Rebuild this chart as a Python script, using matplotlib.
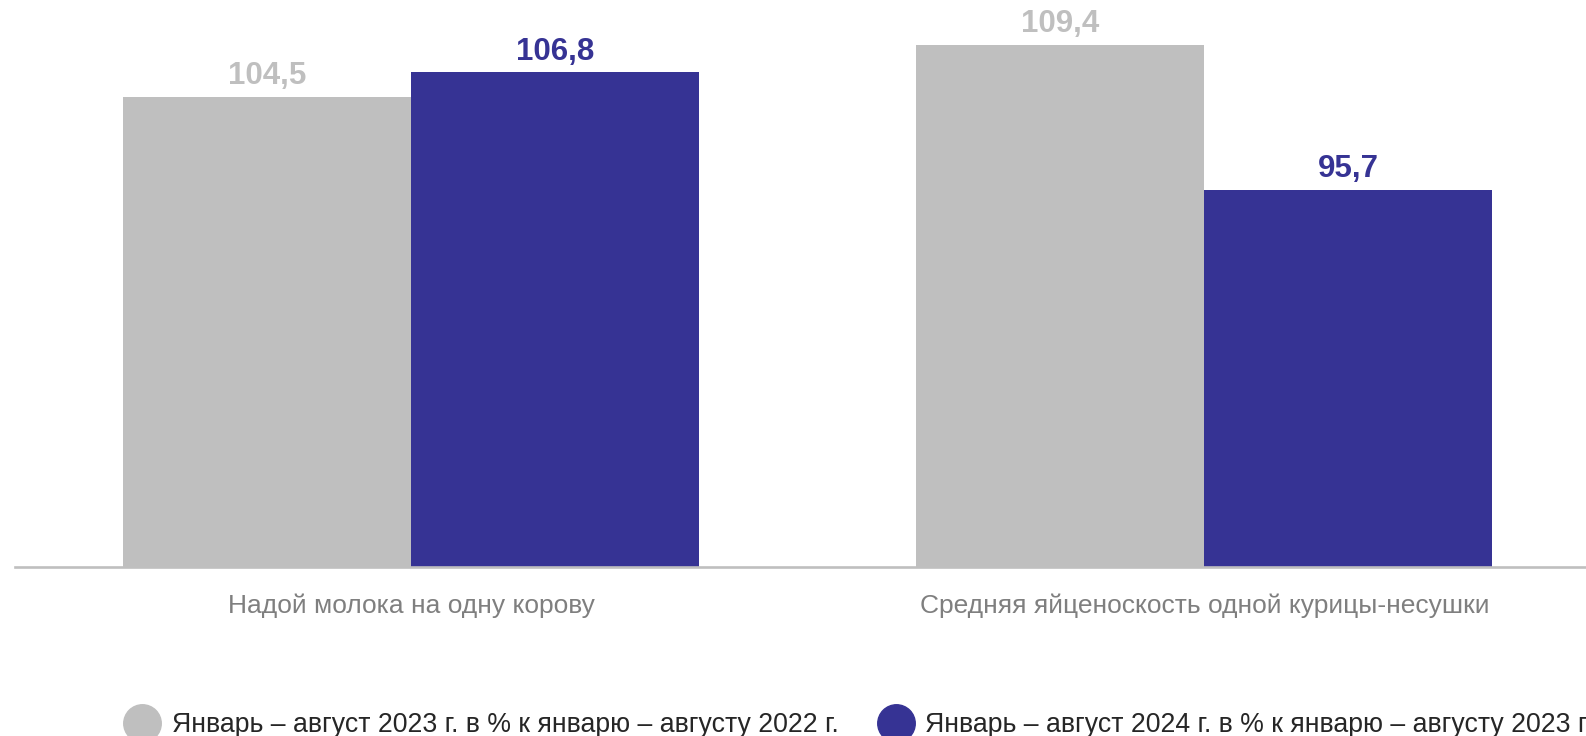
import matplotlib
matplotlib.use('Agg')
import matplotlib.pyplot as plt
import numpy as np

plt.rcParams['font.family'] = ['Liberation Sans', 'DejaVu Sans']

#%% data
categories = ['Надой молока на одну корову', 'Средняя яйценоскость одной курицы-несушки']
series_names = ['Январь – август 2023 г. в % к январю – августу 2022 г.',
                'Январь – август 2024 г. в % к январю – августу 2023 г.']
vals_2023 = [104.5, 109.4]
vals_2024 = [106.8, 95.7]
value_labels_2023 = ['104,5', '109,4']
value_labels_2024 = ['106,8', '95,7']

gray = '#BFBFBF'
blue = '#363394'

W, H = 1586, 736
fig = plt.figure(figsize=(W/100, H/100), dpi=100)
# axes: x from 14.8 px, one category = 793 px; y baseline at 567 px, ymax at 38.5 px
ax = fig.add_axes([14.8/W, (H-567)/H, 1586/W, 528.5/H])

x = np.arange(len(categories))
bw = 0.3632
b1 = ax.bar(x - bw/2, vals_2023, bw, color=gray, linewidth=0)
b2 = ax.bar(x + bw/2, vals_2024, bw, color=blue, linewidth=0)

for rect, lab in zip(b1, value_labels_2023):
    ax.annotate(lab, (rect.get_x() + rect.get_width()/2, rect.get_height()),
                xytext=(0, 4), textcoords='offset points', ha='center', va='bottom',
                fontsize=22.5, fontweight='bold', color=gray, clip_on=False)
for rect, lab in zip(b2, value_labels_2024):
    ax.annotate(lab, (rect.get_x() + rect.get_width()/2, rect.get_height()),
                xytext=(0, 4), textcoords='offset points', ha='center', va='bottom',
                fontsize=22.5, fontweight='bold', color=blue, clip_on=False)

ax.set_xlim(-0.5, 1.5)
ax.set_ylim(60, 110)
ax.set_yticks([])
ax.set_xticks(x)
ax.set_xticklabels(categories, fontsize=19, color='#7F7F7F')
ax.tick_params(axis='x', length=0, pad=19)
for s in ['top', 'right', 'left']:
    ax.spines[s].set_visible(False)
ax.spines['bottom'].set_color(gray)
ax.spines['bottom'].set_linewidth(1.9)

# legend (runs off the right edge, as in the source)
leg_y = (H - 722.5) / H
txt_y = (H - 724.5) / H
fig.lines.append(plt.Line2D([141.5/W], [leg_y], marker='o', markersize=27, color=gray,
                            linestyle='none', transform=fig.transFigure))
fig.lines.append(plt.Line2D([896/W], [leg_y], marker='o', markersize=27, color=blue,
                            linestyle='none', transform=fig.transFigure))
fig.text(172/W, txt_y, series_names[0], fontsize=19.2, color='#262626', va='center', ha='left')
fig.text(925/W, txt_y, series_names[1], fontsize=19.2, color='#262626', va='center', ha='left')

fig.savefig('out.png', dpi=100, facecolor='white')
